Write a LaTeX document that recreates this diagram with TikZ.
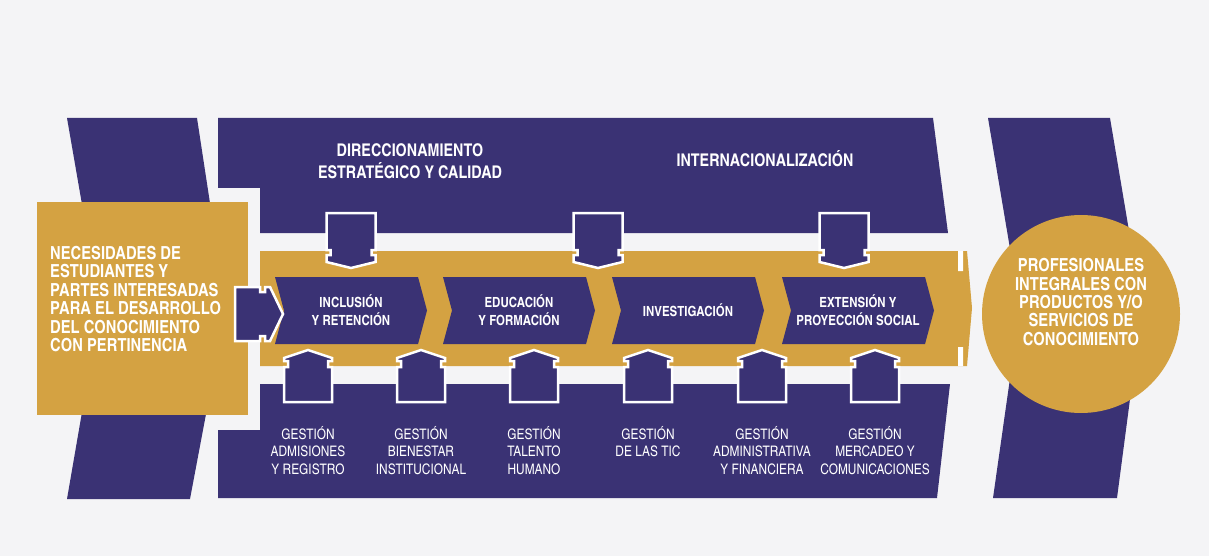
\documentclass[tikz,border=0pt]{standalone}
\usepackage{fontspec}
\setmainfont{texgyreheroscn}[Extension=.otf, UprightFont=*-regular, BoldFont=*-bold]
\usetikzlibrary{shapes.symbols}
\definecolor{navy}{RGB}{58,50,116}
\definecolor{gold}{RGB}{212,162,66}
\definecolor{paper}{RGB}{244,244,246}
\tikzset{
  stage/.style={signal, signal to=east, signal from=west, signal pointer angle=150,
    fill=navy, text=white, minimum width=152pt, minimum height=67pt, inner sep=0pt,
    align=center, font=\bfseries\fontsize{14}{18}\selectfont},
  tab/.style={fill=navy, draw=white, line width=2.5pt},
  headtxt/.style={text=white, align=center, inner sep=0pt, font=\bfseries\fontsize{17.5}{21.5}\selectfont},
  bigtxt/.style={text=white, inner sep=0pt, font=\bfseries\fontsize{18}{18.4}\selectfont},
  gestxt/.style={text=white, align=center, inner sep=0pt, font=\fontsize{14.5}{17.5}\selectfont},
  downtab/.pic={\path[tab] (-24.5,0) -- (24.5,0) -- (24.5,37) -- (20.5,37) -- (20.5,42) -- (24.5,42)
    -- (24.5,49) -- (0,55) -- (-24.5,49) -- (-24.5,42) -- (-20.5,42) -- (-20.5,37) -- (-24.5,37) -- cycle;},
  uptab/.pic={\path[tab] (0,0) -- (24,8) -- (24,11) -- (20,11) -- (20,17) -- (24,17) -- (24,52)
    -- (-24,52) -- (-24,17) -- (-20,17) -- (-20,11) -- (-24,11) -- (-24,8) -- cycle;}
}
\begin{document}
\begin{tikzpicture}[x=1pt,y=-1pt]
\useasboundingbox (0,0) rectangle (1209,556);
\fill[paper] (0,0) rectangle (1209,556);
% outer chevrons
\fill[navy] (67,118) -- (197,118) -- (226,308) -- (190,499) -- (67,499) -- (100,308) -- cycle;
\fill[navy] (988,118) -- (1110,118) -- (1142,308) -- (1117,498) -- (993,498) -- (1020,308) -- cycle;
% banners
\fill[navy] (218,118) -- (933,118) -- (948,233) -- (260,233) -- (260,188) -- (218,188) -- cycle;
\fill[navy] (260,384) -- (950,384) -- (937,498) -- (218,498) -- (218,430) -- (260,430) -- cycle;
% gold band
\fill[gold] (260,251) -- (967,251) -- (972,308) -- (967,366) -- (260,366) -- cycle;
\fill[white] (958,251) rectangle (963,271) (958,347) rectangle (963,366);
\node (needs) [fill=gold, minimum width=211pt, minimum height=213pt, inner sep=0pt] at (142.5,308.5) {};
\node (outcome) [circle, fill=gold, minimum size=198pt, inner sep=0pt] at (1081,314) {};
% stages
\node (inclusion) [stage] at (351,310.5) {INCLUSIÓN\\Y RETENCIÓN};
\node (educacion) [stage] at (519,310.5) {EDUCACIÓN\\Y FORMACIÓN};
\node (investigacion) [stage] at (688,310.5) {INVESTIGACIÓN};
\node (extension) [stage] at (858,310.5) {EXTENSIÓN Y\\PROYECCIÓN SOCIAL};
% tabs
\draw[tab] (235,287) -- (260,287) -- (260,292) -- (265,292) -- (265,287) -- (270,287) -- (283,314)
  -- (270,341) -- (265,341) -- (265,336) -- (260,336) -- (260,341) -- (235,341) -- cycle;
\foreach \x in {351,598,844} \pic at (\x,213) {downtab};
\foreach \x in {308,421,534,648,762,875} \pic at (\x,350) {uptab};
% texts
\node (needstext) [bigtxt, align=left, anchor=west] at (50,299) {NECESIDADES DE\\ESTUDIANTES Y\\PARTES INTERESADAS\\PARA EL DESARROLLO\\DEL CONOCIMIENTO\\CON PERTINENCIA};
\node (outcometext) [bigtxt, align=center] at (1081,302) {PROFESIONALES\\INTEGRALES CON\\PRODUCTOS Y/O\\SERVICIOS DE\\CONOCIMIENTO};
\node (direccion) [headtxt] at (410,161) {DIRECCIONAMIENTO\\ESTRATÉGICO Y CALIDAD};
\node (internacional) [headtxt] at (765,159) {INTERNACIONALIZACIÓN};
\foreach \x/\txt [count=\i] in {308/{GESTIÓN\\ADMISIONES\\Y REGISTRO}, 421/{GESTIÓN\\BIENESTAR\\INSTITUCIONAL},
    534/{GESTIÓN\\TALENTO\\HUMANO}, 648/{GESTIÓN\\DE LAS TIC}, 762/{GESTIÓN\\ADMINISTRATIVA\\Y FINANCIERA},
    875/{GESTIÓN\\MERCADEO Y\\COMUNICACIONES}}
  \node (gestion\i) [gestxt, anchor=north] at (\x,426) {\txt};
\end{tikzpicture}
\end{document}
